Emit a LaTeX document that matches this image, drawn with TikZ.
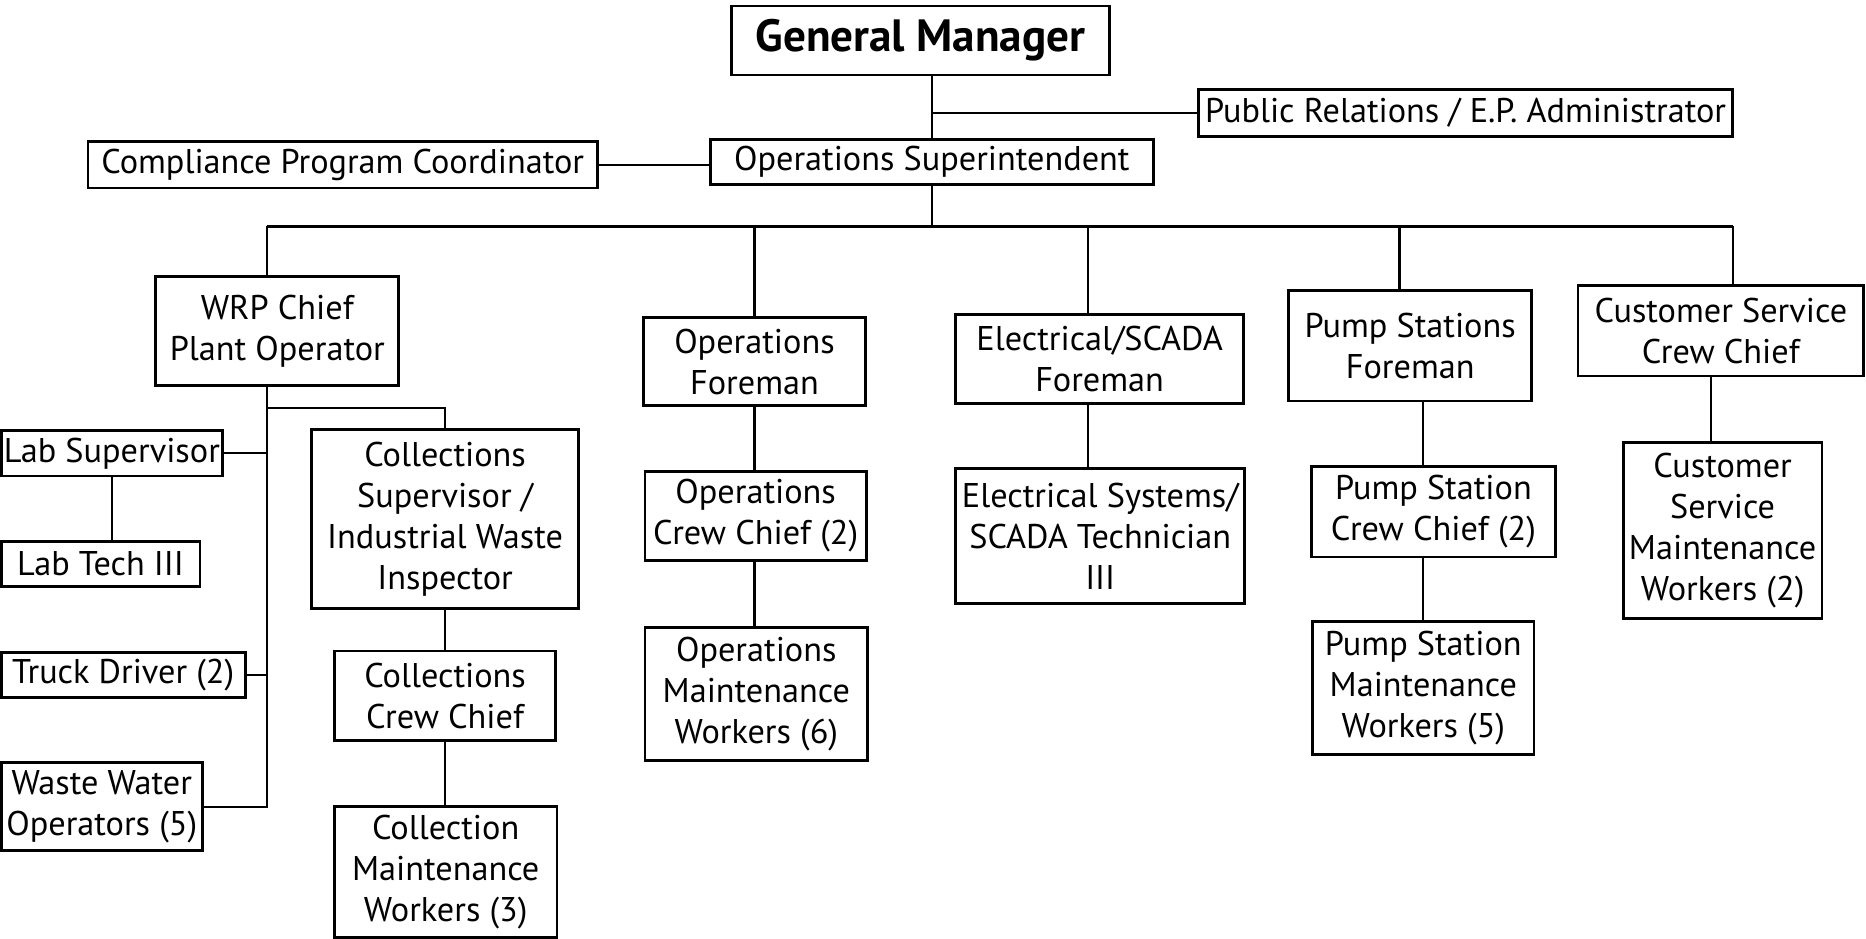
\documentclass[tikz,border=0pt]{standalone}
\usepackage{fontspec}
\setmainfont{PT Sans}
\begin{document}
\begin{tikzpicture}[x=1pt, y=-1pt,
    box/.style={draw, line width=2.4pt, inner sep=0pt, align=center,
      font=\fontsize{28.8}{34.5}\selectfont},
    head/.style={box, font=\fontsize{38}{44}\selectfont\bfseries},
    link/.style={line width=1.8pt},
    bus/.style={line width=2.4pt}]

      \useasboundingbox (0,0) rectangle (1568,789);

      % top
      \node[head, minimum width=317, minimum height=58] (gm) at (773.5,34) {General Manager};
      \node[box, minimum width=449, minimum height=40] (pr) at (1231.5,95) {Public Relations / E.P. Administrator};
      \node[box, minimum width=372, minimum height=38] (os) at (783,136) {Operations Superintendent};
      \node[box, minimum width=428, minimum height=39] (cpc) at (288,138.5) {Compliance Program Coordinator};

      % foremen
      \node[box, minimum width=204, minimum height=92] (wrp) at (233,278) {WRP Chief\\Plant Operator};
      \node[box, minimum width=186, minimum height=74] (of) at (634,304) {Operations\\Foreman};
      \node[box, minimum width=242, minimum height=75] (ef) at (924,301.5) {Electrical/SCADA\\Foreman};
      \node[box, minimum width=204, minimum height=93] (psf) at (1185,290.5) {Pump Stations\\Foreman};
      \node[box, minimum width=240, minimum height=76] (csc) at (1446,278) {Customer Service\\Crew Chief};

      % plant
      \node[box, minimum width=186, minimum height=38] (labs) at (94,381) {Lab Supervisor};
      \node[box, minimum width=167, minimum height=38] (labt) at (84.5,474) {Lab Tech III};
      \node[box, minimum width=205, minimum height=38] (truck) at (103.5,567) {Truck Driver (2)};
      \node[box, minimum width=169, minimum height=74] (wwo) at (85.5,678) {Waste Water\\Operators (5)};
      \node[box, minimum width=224, minimum height=150] (colsup) at (374,436) {Collections\\Supervisor /\\Industrial Waste\\Inspector};
      \node[box, minimum width=186, minimum height=75] (colcc) at (374,584.5) {Collections\\Crew Chief};
      \node[box, minimum width=187, minimum height=110] (colmw) at (374.5,733) {Collection\\Maintenance\\Workers (3)};

      % other crews
      \node[box, minimum width=186, minimum height=75] (opcc) at (635,433.5) {Operations\\Crew Chief (2)};
      \node[box, minimum width=187, minimum height=112] (opmw) at (635.5,583) {Operations\\Maintenance\\Workers (6)};
      \node[box, minimum width=243, minimum height=113] (est) at (924.5,450.5) {Electrical Systems/\\SCADA Technician\\III};
      \node[box, minimum width=205, minimum height=76] (pscc) at (1204.5,430) {Pump Station\\Crew Chief (2)};
      \node[box, minimum width=186, minimum height=112] (psmw) at (1196,578) {Pump Station\\Maintenance\\Workers (5)};
      \node[box, minimum width=167, minimum height=148] (csmw) at (1447.5,446) {Customer\\Service\\Maintenance\\Workers (2)};

      % bus coordinates
      \coordinate (b1) at (224,190);
      \coordinate (b2) at (634,190);
      \coordinate (b3) at (914,190);
      \coordinate (b4) at (1176,190);
      \coordinate (b5) at (1456,190);
      \coordinate (cb) at (224,343);
      \coordinate (cs) at (1438,0);

      \draw[link] (os.north |- gm.south) -- (os.north);
      \draw[link] (os.north |- pr.west) -- (pr.west);
      \draw[link] (cpc.east) -- (os.west |- cpc.east);
      \draw[link] (os.south) -- (os.south |- b1);
      \draw[bus] (b1) -- (b5);
      \foreach \b/\n in {b1/wrp, b2/of, b3/ef, b4/psf, b5/csc}
        \draw[link] (\b) -- (\b |- \n.north);

      % plant operator branch
      \draw[link] (b1 |- wrp.south) -- (b1 |- wwo.east) -- (wwo.east);
      \draw[link] (labs.east) -- (b1 |- labs.east);
      \draw[link] (truck.east) -- (b1 |- truck.east);
      \draw[link] (labs.south) -- (labs.south |- labt.north);
      \draw[link] (cb) -| (colsup.north);
      \draw[link] (colsup.south) -- (colcc.north);
      \draw[link] (colcc.south) -- (colcc.south |- colmw.north);

      \draw[link] (of.south) -- (of.south |- opcc.north);
      \draw[link] (of.south |- opcc.south) -- (of.south |- opmw.north);
      \draw[link] (b3 |- ef.south) -- (b3 |- est.north);
      \draw[link] (psmw.north |- psf.south) -- (psmw.north |- pscc.north);
      \draw[link] (psmw.north |- pscc.south) -- (psmw.north);
      \draw[link] (cs |- csc.south) -- (cs |- csmw.north);

    \end{tikzpicture}
\end{document}
